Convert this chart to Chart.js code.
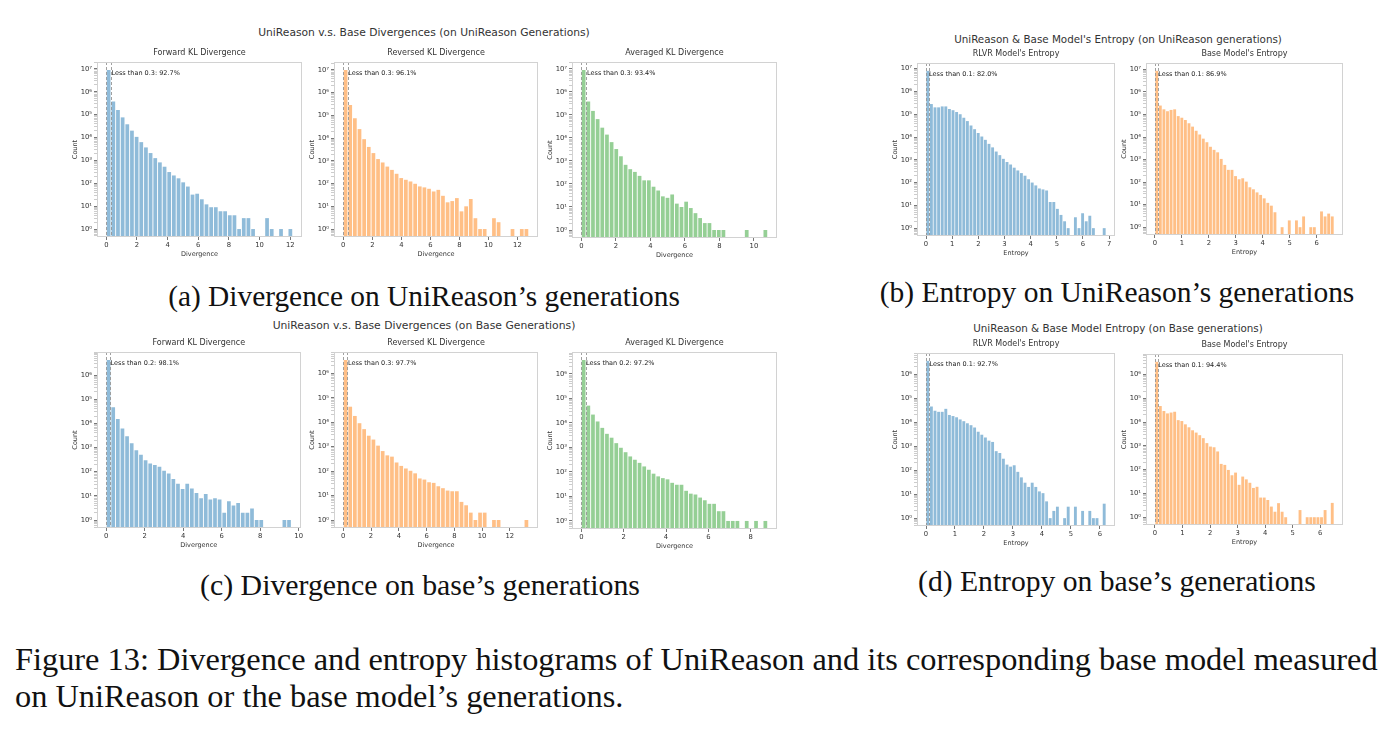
<!DOCTYPE html>
<html>
<head>
<meta charset="utf-8">
<script src="https://cdn.jsdelivr.net/npm/chart.js@4.4.1/dist/chart.umd.min.js"></script>
<style>
body { margin: 0; background: #fff; width: 1392px; height: 729px; position: relative; overflow: hidden; }
canvas { position: absolute; }
.txt { position: absolute; white-space: nowrap; line-height: 1; }
.mid { transform: translate(-50%, -50%); }
.sup { font-family: "DejaVu Sans", sans-serif; font-size: 10px; color: #333; }
.cap { font-family: "Liberation Serif", serif; font-size: 24px; color: #111; }
</style>
</head>
<body>
<div class="txt mid sup" style="left:424px;top:33px" data-w="332">UniReason v.s. Base Divergences (on UniReason Generations)</div>
<div class="txt mid sup" style="left:1118px;top:39px" data-w="328">UniReason &amp; Base Model's Entropy (on UniReason generations)</div>
<div class="txt mid sup" style="left:424px;top:326px" data-w="303">UniReason v.s. Base Divergences (on Base Generations)</div>
<div class="txt mid sup" style="left:1118px;top:328px" data-w="290">UniReason &amp; Base Model Entropy (on Base generations)</div>

<div class="txt mid cap" style="left:424px;top:297px" data-w="512">(a) Divergence on UniReason’s generations</div>
<div class="txt mid cap" style="left:1117px;top:293px" data-w="475">(b) Entropy on UniReason’s generations</div>
<div class="txt mid cap" style="left:420px;top:585px" data-w="440">(c) Divergence on base’s generations</div>
<div class="txt mid cap" style="left:1117px;top:582px" data-w="398">(d) Entropy on base’s generations</div>
<div class="txt cap" id="fig1" style="left:15px;top:643px" data-w="1363">Figure 13: Divergence and entropy histograms of UniReason and its corresponding base model measured</div>
<div class="txt cap" id="fig2" style="left:15px;top:680px">on UniReason or the base model’s generations.</div>

<script>
// histogram counts per bin (bins start at 0)
const fwdKlUni = [9e6, 3.8e5, 1.6e5, 7.6e4, 3.8e4, 2e4, 1.07e4, 6.3e3, 3.7e3, 2.1e3,
  1260, 820, 530, 310, 220, 165, 110, 72, 32, 35,
  20, 12, 9, 9, 6, 6, 4, 4, 1, 3,
  3, 1, 0, 0, 3, 1, 0, 1, 0, 1];
const revKlUni = [1e7, 2.9e5, 7.5e4, 2.5e4, 9e3, 4.1e3, 2.2e3, 1.2e3, 850, 560,
  400, 270, 175, 147, 124, 98, 75, 68, 59, 45,
  53, 29, 15, 17, 23, 6, 10, 21, 3, 1,
  1, 0, 3, 2, 0, 0, 1, 0, 1, 1];
const avgKlUni = [9e6, 3.8e5, 1.5e5, 6.6e4, 2.8e4, 1.4e4, 6.6e3, 3.3e3, 1.6e3, 680,
  440, 335, 225, 144, 144, 76, 52, 29, 25, 35,
  14, 10, 17, 9, 5.4, 3.3, 2, 2, 1, 1,
  1, 0, 0, 0, 0, 1, 0, 0, 0, 1];
const rlvrEntUni = [8e6, 2.8e5, 2e5, 2e5, 2.2e5, 2.2e5, 1.7e5, 1.5e5, 1.25e5, 1e5,
  7e4, 5e4, 3.2e4, 2.2e4, 1.5e4, 1.05e4, 7.5e3, 5e3, 3.5e3, 2.3e3,
  1.6e3, 1.1e3, 800, 620, 450, 340, 260, 200, 140, 100,
  75, 55, 50, 45, 14, 14, 7, 3.8, 2, 1,
  0, 3, 1, 4.5, 2, 3.5, 1, 0, 0, 1];
const baseEntUni = [8.7e6, 2.5e5, 1.7e5, 1.4e5, 1.6e5, 1.7e5, 8.5e4, 7.2e4, 5.7e4, 4.1e4,
  2.9e4, 1.9e4, 1.3e4, 8.5e3, 5.9e3, 3.7e3, 2.7e3, 2.1e3, 1.07e3, 580,
  350, 350, 185, 134, 148, 105, 59, 48, 35, 27,
  19, 12, 9, 4.6, 0, 1, 0, 2, 0, 2,
  1, 3, 0, 1, 1, 0, 5, 3, 4, 3];
const fwdKlBase = [4.2e6, 4.6e4, 1.5e4, 6.2e3, 2.9e3, 1.5e3, 780, 500, 300, 220,
  190, 160, 110, 85, 50, 32, 19, 32, 20, 13,
  8, 12, 7, 8, 7, 2, 6, 4, 5, 2,
  2, 3, 1, 1, 0, 0, 0, 0, 1, 1];
const revKlBase = [3.5e6, 4.3e4, 1.8e4, 9.1e3, 5.2e3, 2.8e3, 1.95e3, 1.1e3, 660, 440,
  390, 225, 163, 128, 103, 81, 50, 45, 35, 33,
  24, 20, 16, 15, 15, 5.5, 4, 2, 1, 2,
  2, 0, 1, 1, 0, 0, 0, 0, 0, 1];
const avgKlBase = [3.7e6, 5.1e4, 2.2e4, 1.15e4, 6.3e3, 3.6e3, 2.5e3, 1.5e3, 970, 640,
  430, 315, 235, 168, 123, 85, 66, 56, 50, 36,
  30, 30, 17, 13, 12, 9, 7, 5, 5, 2.5,
  2.5, 1, 1, 1, 0, 1, 0, 1, 0, 1];
const rlvrEntBase = [3.6e6, 4.5e4, 3e4, 2.7e4, 2.7e4, 3.6e4, 2e4, 1.8e4, 1.6e4, 1.3e4,
  1.1e4, 9e3, 7.5e3, 6e3, 4e3, 3e3, 2.3e3, 1.7e3, 1.5e3, 620,
  520, 300, 170, 140, 160, 85, 50, 30, 20, 30,
  20, 13, 11, 5, 1, 2, 3, 0, 1, 3,
  0, 3, 0, 2, 0, 2, 1, 1, 0, 4];
const baseEntBase = [3.4e6, 4.7e4, 2.9e4, 2.3e4, 2.5e4, 2.7e4, 1.2e4, 1.1e4, 8e3, 6e3,
  4.5e3, 3.6e3, 2.8e3, 2.1e3, 1.3e3, 930, 870, 580, 174, 158,
  97, 58, 75, 23, 51, 39, 28, 17, 19, 6.7,
  6.7, 5.3, 2.8, 1.7, 3.9, 1.7, 1, 0, 0, 0,
  2, 0, 1, 1, 1, 1, 1, 2, 0, 4];

const binWidths = [0.304, 0.3195, 0.27, 0.1376, 0.133, 0.2405, 0.334, 0.22, 0.1242, 0.130];
const thresholds = [0.3, 0.3, 0.3, 0.1, 0.1, 0.2, 0.3, 0.2, 0.1, 0.1];
const notes = ['Less than 0.3: 92.7%', 'Less than 0.3: 96.1%', 'Less than 0.3: 93.4%',
  'Less than 0.1: 82.0%', 'Less than 0.1: 86.9%',
  'Less than 0.2: 98.1%', 'Less than 0.3: 97.7%', 'Less than 0.2: 97.2%',
  'Less than 0.1: 92.7%', 'Less than 0.1: 94.4%'];
const titles = ['Forward KL Divergence', 'Reversed KL Divergence', 'Averaged KL Divergence',
  "RLVR Model's Entropy", "Base Model's Entropy",
  'Forward KL Divergence', 'Reversed KL Divergence', 'Averaged KL Divergence',
  "RLVR Model's Entropy", "Base Model's Entropy"];
const xTicks = [[0, 2, 4, 6, 8, 10, 12], [0, 2, 4, 6, 8, 10, 12], [0, 2, 4, 6, 8, 10],
  [0, 1, 2, 3, 4, 5, 6, 7], [0, 1, 2, 3, 4, 5, 6],
  [0, 2, 4, 6, 8, 10], [0, 2, 4, 6, 8, 10, 12], [0, 2, 4, 6, 8],
  [0, 1, 2, 3, 4, 5, 6], [0, 1, 2, 3, 4, 5, 6]];
const decades = [0, 1, 2, 3, 4, 5, 6, 7];

const BLUE = 'rgba(31,119,180,0.5)';
const ORANGE = 'rgba(255,127,14,0.5)';
const GREEN = 'rgba(44,160,44,0.5)';

const panels = [
  { counts: fwdKlUni, color: BLUE, xlabel: 'Divergence', box: [97, 62, 302, 237] },
  { counts: revKlUni, color: ORANGE, xlabel: 'Divergence', box: [334, 62, 538, 237] },
  { counts: avgKlUni, color: GREEN, xlabel: 'Divergence', box: [572, 62, 777, 238] },
  { counts: rlvrEntUni, color: BLUE, xlabel: 'Entropy', box: [917, 63, 1115, 236] },
  { counts: baseEntUni, color: ORANGE, xlabel: 'Entropy', box: [1146, 63, 1343, 235] },
  { counts: fwdKlBase, color: BLUE, xlabel: 'Divergence', box: [97, 352, 301, 528] },
  { counts: revKlBase, color: ORANGE, xlabel: 'Divergence', box: [334, 352, 538, 528] },
  { counts: avgKlBase, color: GREEN, xlabel: 'Divergence', box: [572, 352, 777, 529] },
  { counts: rlvrEntBase, color: BLUE, xlabel: 'Entropy', box: [917, 353, 1115, 526] },
  { counts: baseEntBase, color: ORANGE, xlabel: 'Entropy', box: [1146, 354, 1343, 525] }
];

Chart.defaults.font.family = '"DejaVu Sans", sans-serif';
Chart.defaults.color = '#333';

const supDigits = '⁰¹²³⁴⁵⁶⁷⁸⁹';
function logLabel(v) {
  const e = Math.round(Math.log10(v));
  return '10' + String(e).split('').map(c => supDigits[+c]).join('');
}

// dashed threshold lines, note text and the light frame
const markers = {
  id: 'markers',
  afterDatasetsDraw(chart, args, opts) {
    const { ctx, chartArea: a, scales: { x, y } } = chart;
    ctx.save();
    ctx.strokeStyle = 'rgba(150,150,150,0.9)';
    ctx.lineWidth = 1;
    ctx.setLineDash([3, 2]);
    [0, opts.thr].forEach(v => {
      const px = Math.round(x.getPixelForValue(v)) + 0.5;
      ctx.beginPath();
      ctx.moveTo(px, a.top);
      ctx.lineTo(px, a.bottom);
      ctx.stroke();
    });
    ctx.setLineDash([]);
    ctx.fillStyle = '#222';
    ctx.font = '6.5px "DejaVu Sans"';
    ctx.textBaseline = 'top';
    ctx.fillText(opts.note, x.getPixelForValue(opts.thr) + 0.5, y.getPixelForValue(opts.peak) + 0.5);
    ctx.restore();
  },
  afterDraw(chart) {
    const { ctx, chartArea: a } = chart;
    ctx.save();
    ctx.strokeStyle = '#d2d2d2';
    ctx.lineWidth = 1;
    ctx.strokeRect(Math.round(a.left) + 0.5, Math.round(a.top) + 0.5,
      Math.round(a.right - a.left) - 1, Math.round(a.bottom - a.top) - 1);
    ctx.restore();
  }
};

const AXW = 30, AXH = 24, TTL = 15, PADR = 3;

panels.forEach((p, k) => {
  const [l, t, r, b] = p.box;
  const canvas = document.createElement('canvas');
  canvas.width = AXW + (r - l) + PADR;
  canvas.height = TTL + (b - t) + AXH;
  canvas.style.left = (l - AXW) + 'px';
  canvas.style.top = (t - TTL) + 'px';
  document.body.appendChild(canvas);

  const span = p.counts.length * binWidths[k];
  const peak = Math.max(...p.counts);
  const L = Math.log10(peak);

  new Chart(canvas, {
    type: 'bar',
    data: {
      datasets: [{
        data: p.counts.map((c, i) => ({ x: (i + 0.5) * binWidths[k], y: c > 0 ? c : null })),
        backgroundColor: p.color,
        borderWidth: 0,
        barPercentage: 0.8,
        categoryPercentage: 1
      }]
    },
    options: {
      responsive: false,
      animation: false,
      devicePixelRatio: 1,
      layout: { padding: { right: PADR }, autoPadding: false },
      plugins: {
        legend: { display: false },
        tooltip: { enabled: false },
        title: {
          display: true, text: titles[k], fullSize: false, color: '#333',
          font: { size: 8, weight: 'normal' }, padding: { top: 1.4, bottom: 4 }
        },
        markers: { thr: thresholds[k], note: notes[k], peak: peak }
      },
      scales: {
        x: {
          type: 'linear', offset: false,
          min: -0.05 * span, max: 1.05 * span,
          afterBuildTicks: s => { s.ticks = xTicks[k].map(v => ({ value: v })); },
          afterFit: s => { s.height = AXH; },
          border: { display: false },
          grid: { drawOnChartArea: false, offset: false, tickLength: 3, tickColor: '#555', tickWidth: 0.8 },
          ticks: { font: { size: 6.8 }, padding: 1, maxRotation: 0, autoSkip: false, color: '#333',
            callback: v => String(v) },
          title: { display: true, text: p.xlabel, font: { size: 6.5 }, color: '#333', padding: { top: 0, bottom: 3 } }
        },
        y: {
          type: 'logarithmic',
          min: Math.pow(10, -0.05 * L), max: Math.pow(10, 1.05 * L),
          afterBuildTicks: s => {
            const list = [];
            decades.concat([-1]).forEach(e => {
              for (let m = 1; m < 10; m++) {
                const v = m * Math.pow(10, e);
                if (v >= s.min && v <= s.max) list.push({ value: v, major: m === 1 });
              }
            });
            list.sort((u, w) => u.value - w.value);
            s.ticks = list;
          },
          afterFit: s => { s.width = AXW; },
          border: { display: false },
          grid: {
            drawOnChartArea: false, tickLength: 3,
            tickColor: c => (c.tick && c.tick.major) ? '#555' : '#999',
            tickWidth: c => (c.tick && c.tick.major) ? 0.8 : 0.5
          },
          ticks: { font: { size: 6.8 }, padding: 2, autoSkip: false, color: '#333',
            callback: (v, i, ticks) => ticks[i].major ? logLabel(v) : '' },
          title: { display: true, text: 'Count', font: { size: 6.5 }, color: '#333', padding: { top: 4, bottom: 0 } }
        }
      }
    },
    plugins: [markers]
  });
});

// size the html texts to the widths in the figure
document.querySelectorAll('.txt[data-w]').forEach(el => {
  const w = el.getBoundingClientRect().width;
  const fs = parseFloat(getComputedStyle(el).fontSize);
  el.style.fontSize = (fs * (+el.dataset.w) / w) + 'px';
});
document.getElementById('fig2').style.fontSize = document.getElementById('fig1').style.fontSize;
</script>
</body>
</html>
